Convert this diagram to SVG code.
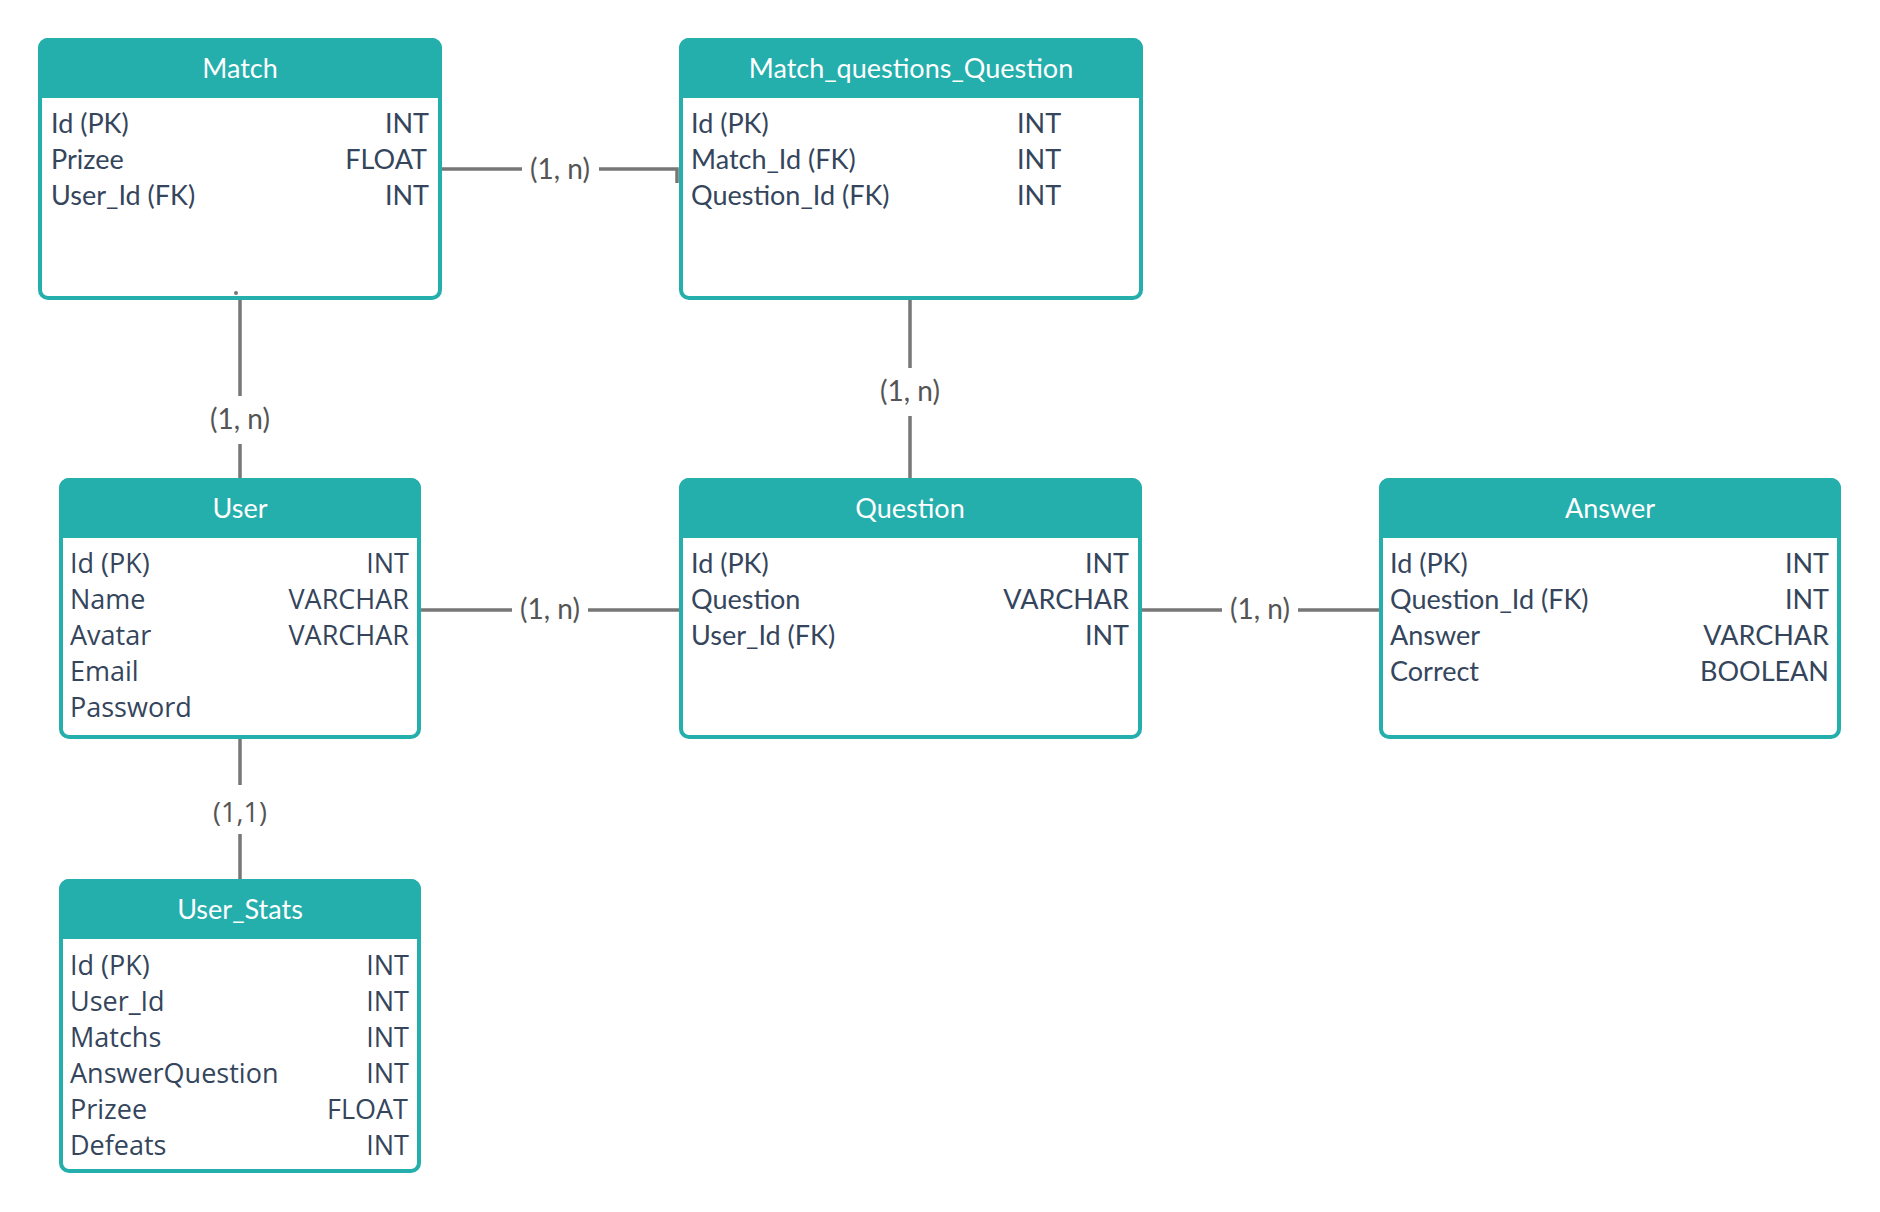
<svg xmlns="http://www.w3.org/2000/svg" width="1880" height="1212" viewBox="0 0 1880 1212">
  <style>
    .hdr { fill: #24aeac; }
    .frame { fill: none; stroke: #24aeac; stroke-width: 4; }
    .body { fill: #ffffff; }
    .title { font-family: Lato, "Liberation Sans", sans-serif; font-size: 27px; fill: #ffffff; text-anchor: middle; }
    .row { font-family: Lato, "Liberation Sans", sans-serif; font-size: 27px; fill: #34455c; }
    .row2 { font-family: "Open Sans", "Noto Sans", sans-serif; font-size: 27px; fill: #34455c; }
    .r { text-anchor: end; }
    .link { fill: none; stroke: #777777; stroke-width: 3.5; }
    .card { font-family: Lato, "Liberation Sans", sans-serif; font-size: 28px; fill: #555555; text-anchor: middle; }
    .card2 { font-family: "Open Sans", "Noto Sans", sans-serif; font-size: 27px; fill: #555555; text-anchor: middle; }
  </style>

  <!-- Match -->
  <g id="match">
    <rect class="body" x="40" y="40" width="400" height="258" rx="8"/>
    <rect class="hdr" x="38" y="38" width="404" height="60" rx="10"/>
    <rect class="hdr" x="38" y="70" width="404" height="28"/>
    <rect class="frame" x="40" y="40" width="400" height="258" rx="8"/>
    <text class="title" x="240" y="78">Match</text>
    <text class="row" x="51" y="133">Id (PK)</text>
    <text class="row r" x="429" y="133">INT</text>
    <text class="row" x="51" y="169">Prizee</text>
    <text class="row r" x="427" y="169">FLOAT</text>
    <text class="row" x="51" y="205">User_Id (FK)</text>
    <text class="row r" x="429" y="205">INT</text>
  </g>

  <!-- Match_questions_Question -->
  <g id="match-questions-question">
    <rect class="body" x="681" y="40" width="460" height="258" rx="8"/>
    <rect class="hdr" x="679" y="38" width="464" height="60" rx="10"/>
    <rect class="hdr" x="679" y="70" width="464" height="28"/>
    <rect class="frame" x="681" y="40" width="460" height="258" rx="8"/>
    <text class="title" x="911" y="78">Match_questions_Question</text>
    <text class="row" x="691" y="133">Id (PK)</text>
    <text class="row" x="1017" y="133">INT</text>
    <text class="row" x="691" y="169">Match_Id (FK)</text>
    <text class="row" x="1017" y="169">INT</text>
    <text class="row" x="691" y="205">Question_Id (FK)</text>
    <text class="row" x="1017" y="205">INT</text>
  </g>

  <!-- User -->
  <g id="user">
    <rect class="body" x="61" y="480" width="358" height="257" rx="8"/>
    <rect class="hdr" x="59" y="478" width="362" height="60" rx="10"/>
    <rect class="hdr" x="59" y="510" width="362" height="28"/>
    <rect class="frame" x="61" y="480" width="358" height="257" rx="8"/>
    <text class="title" x="240" y="518">User</text>
    <text class="row2" x="70" y="573">Id (PK)</text>
    <text class="row2 r" x="409" y="573">INT</text>
    <text class="row2" x="70" y="609">Name</text>
    <text class="row2 r" x="409" y="609">VARCHAR</text>
    <text class="row2" x="70" y="645">Avatar</text>
    <text class="row2 r" x="409" y="645">VARCHAR</text>
    <text class="row2" x="70" y="681">Email</text>
    <text class="row2" x="70" y="717">Password</text>
  </g>

  <!-- Question -->
  <g id="question">
    <rect class="body" x="681" y="480" width="459" height="257" rx="8"/>
    <rect class="hdr" x="679" y="478" width="463" height="60" rx="10"/>
    <rect class="hdr" x="679" y="510" width="463" height="28"/>
    <rect class="frame" x="681" y="480" width="459" height="257" rx="8"/>
    <text class="title" x="910" y="518">Question</text>
    <text class="row" x="691" y="573">Id (PK)</text>
    <text class="row r" x="1129" y="573">INT</text>
    <text class="row" x="691" y="609">Question</text>
    <text class="row r" x="1129" y="609">VARCHAR</text>
    <text class="row" x="691" y="645">User_Id (FK)</text>
    <text class="row r" x="1129" y="645">INT</text>
  </g>

  <!-- Answer -->
  <g id="answer">
    <rect class="body" x="1381" y="480" width="458" height="257" rx="8"/>
    <rect class="hdr" x="1379" y="478" width="462" height="60" rx="10"/>
    <rect class="hdr" x="1379" y="510" width="462" height="28"/>
    <rect class="frame" x="1381" y="480" width="458" height="257" rx="8"/>
    <text class="title" x="1610" y="518">Answer</text>
    <text class="row" x="1390" y="573">Id (PK)</text>
    <text class="row r" x="1829" y="573">INT</text>
    <text class="row" x="1390" y="609">Question_Id (FK)</text>
    <text class="row r" x="1829" y="609">INT</text>
    <text class="row" x="1390" y="645">Answer</text>
    <text class="row r" x="1829" y="645">VARCHAR</text>
    <text class="row" x="1390" y="681">Correct</text>
    <text class="row r" x="1829" y="681">BOOLEAN</text>
  </g>

  <!-- User_Stats -->
  <g id="user-stats">
    <rect class="body" x="61" y="881" width="358" height="290" rx="8"/>
    <rect class="hdr" x="59" y="879" width="362" height="60" rx="10"/>
    <rect class="hdr" x="59" y="911" width="362" height="28"/>
    <rect class="frame" x="61" y="881" width="358" height="290" rx="8"/>
    <text class="title" x="240" y="919">User_Stats</text>
    <text class="row2" x="70" y="975">Id (PK)</text>
    <text class="row2 r" x="409" y="975">INT</text>
    <text class="row2" x="70" y="1011">User_Id</text>
    <text class="row2 r" x="409" y="1011">INT</text>
    <text class="row2" x="70" y="1047">Matchs</text>
    <text class="row2 r" x="409" y="1047">INT</text>
    <text class="row2" x="70" y="1083">AnswerQuestion</text>
    <text class="row2 r" x="409" y="1083">INT</text>
    <text class="row2" x="70" y="1119">Prizee</text>
    <text class="row2 r" x="408" y="1119">FLOAT</text>
    <text class="row2" x="70" y="1155">Defeats</text>
    <text class="row2 r" x="409" y="1155">INT</text>
  </g>

  <!-- connectors -->
  <g id="connectors">
    <path class="link" d="M442,169 H522 M599,169 H677 V183"/>
    <circle cx="236" cy="293" r="2" fill="#777777"/>
    <path class="link" d="M240,300 V396 M240,444 V478"/>
    <path class="link" d="M910,300 V368 M910,416 V478"/>
    <path class="link" d="M421,610 H512 M588,610 H679"/>
    <path class="link" d="M1142,610 H1222 M1298,610 H1379"/>
    <path class="link" d="M240,739 V785 M240,834 V879"/>
    <text class="card" x="560" y="179">(1, n)</text>
    <text class="card" x="240" y="429">(1, n)</text>
    <text class="card" x="910" y="401">(1, n)</text>
    <text class="card" x="550" y="619">(1, n)</text>
    <text class="card" x="1260" y="619">(1, n)</text>
    <text class="card2" x="240" y="822">(1,1)</text>
  </g>
</svg>
